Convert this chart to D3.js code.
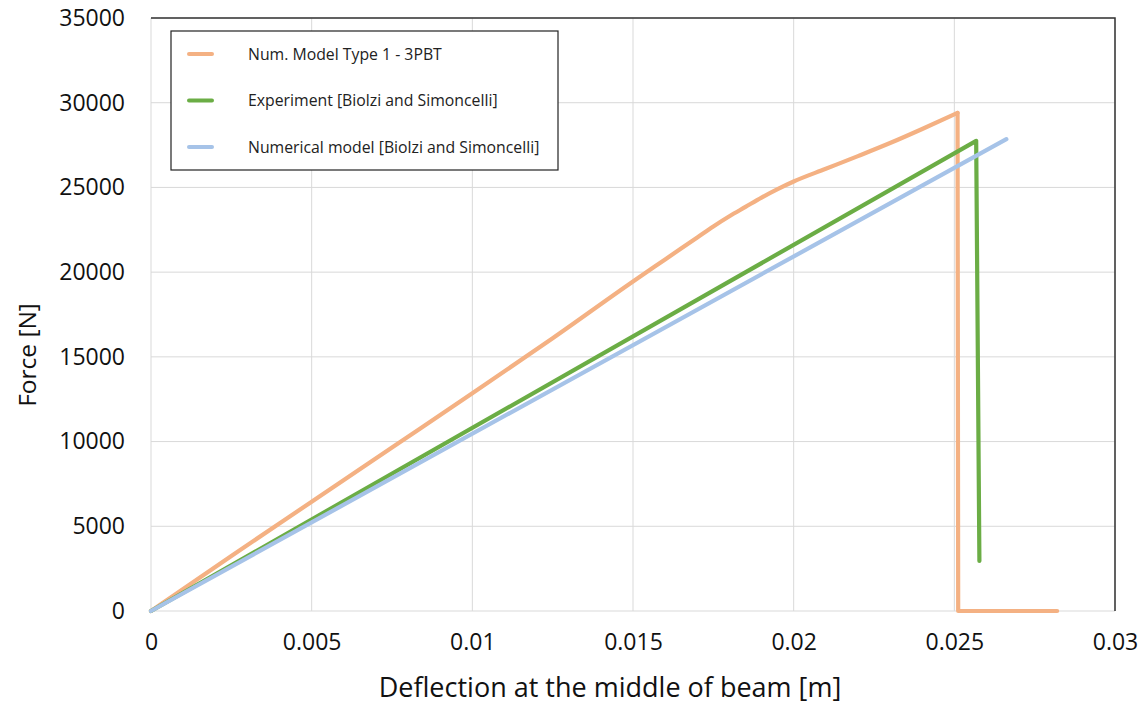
<!DOCTYPE html>
<html>
<head>
<meta charset="utf-8">
<script src="https://cdn.jsdelivr.net/npm/d3@7/dist/d3.min.js"></script>
<style>
  html, body { margin: 0; padding: 0; background: #fff; }
  svg { display: block; font-family: "Open Sans", "Liberation Sans", sans-serif; }
</style>
</head>
<body>
<svg id="chart" width="1144" height="706"></svg>
<script>
// ---- data ----
const seriesNames = [
  "Num. Model Type 1 - 3PBT",
  "Experiment [Biolzi and Simoncelli]",
  "Numerical model [Biolzi and Simoncelli]"
];
// rising branch of the numerical model, then its failure drop
const numModelX = [0, 0.0025, 0.005, 0.0075, 0.01, 0.0125, 0.015, 0.016, 0.017, 0.0175, 0.018, 0.0185, 0.019, 0.0195, 0.02, 0.021, 0.022, 0.023, 0.024, 0.0251];
const numModelY = [0, 3250, 6450, 9650, 12850, 16100, 19450, 20750, 22050, 22700, 23300, 23850, 24400, 24900, 25350, 26100, 26850, 27620, 28450, 29400];
const numModelDropX = [0.0251, 0.02512, 0.0282];
const numModelDropY = [29400, 0, 0];
const experimentX = [0, 0.02568, 0.02578];
const experimentY = [0, 27750, 2950];
const biolziModelX = [0, 0.02662];
const biolziModelY = [0, 27850];
const xTicks = [0, 0.005, 0.01, 0.015, 0.02, 0.025, 0.03];
const xTickLabels = ["0", "0.005", "0.01", "0.015", "0.02", "0.025", "0.03"];
const yTicks = [0, 5000, 10000, 15000, 20000, 25000, 30000, 35000];
const colors = ["#F4B183", "#6BAD45", "#A6C3E8"];

// ---- layout ----
const svg = d3.select("#chart");
const pL = 151, pR = 1115, pT = 18, pB = 611;
const x = d3.scaleLinear().domain([0, 0.03]).range([pL, pR]);
const y = d3.scaleLinear().domain([0, 35000]).range([pB, pT]);

// gridlines
svg.append("g").selectAll("line").data(xTicks).join("line")
  .attr("x1", d => x(d)).attr("x2", d => x(d))
  .attr("y1", pT).attr("y2", pB)
  .attr("stroke", "#d9d9d9").attr("stroke-width", 1);
svg.append("g").selectAll("line").data(yTicks).join("line")
  .attr("x1", pL).attr("x2", pR)
  .attr("y1", d => y(d)).attr("y2", d => y(d))
  .attr("stroke", "#d9d9d9").attr("stroke-width", 1);
// dark top/right border
svg.append("path")
  .attr("d", `M${pL},${pT}H${pR}V${pB}`)
  .attr("fill", "none").attr("stroke", "#333").attr("stroke-width", 1.5);

// axes labels via d3 axes (no domain / ticks)
const xAxis = svg.append("g").attr("transform", `translate(0,${pB})`)
  .call(d3.axisBottom(x).tickValues(xTicks).tickFormat((d, i) => xTickLabels[i]).tickSize(0).tickPadding(23));
xAxis.select(".domain").remove();
xAxis.selectAll("text").attr("font-size", 23).attr("fill", "#111").attr("font-family", "Open Sans, sans-serif");

const yAxis = svg.append("g").attr("transform", `translate(${pL},0)`)
  .call(d3.axisLeft(y).tickValues(yTicks).tickFormat(d3.format("d")).tickSize(0).tickPadding(26));
yAxis.select(".domain").remove();
yAxis.selectAll("text").attr("font-size", 23).attr("fill", "#111").attr("font-family", "Open Sans, sans-serif");

// axis titles
svg.append("text").attr("x", 610).attr("y", 697).attr("text-anchor", "middle")
  .attr("font-size", 27).attr("fill", "#111").text("Deflection at the middle of beam [m]");
svg.append("text").attr("transform", "translate(36,355) rotate(-90)").attr("text-anchor", "middle")
  .attr("font-size", 24.5).attr("fill", "#111").text("Force [N]");

// lines
const series = [
  {xs: numModelX, ys: numModelY, curve: d3.curveMonotoneX, c: 0},
  {xs: numModelDropX, ys: numModelDropY, curve: d3.curveLinear, c: 0},
  {xs: experimentX, ys: experimentY, curve: d3.curveLinear, c: 1},
  {xs: biolziModelX, ys: biolziModelY, curve: d3.curveLinear, c: 2}
];
series.forEach((s) => {
  const line = d3.line().x(d => x(d[0])).y(d => y(d[1])).curve(s.curve);
  svg.append("path")
    .datum(s.xs.map((v, j) => [v, s.ys[j]]))
    .attr("d", line)
    .attr("fill", "none")
    .attr("stroke", colors[s.c])
    .attr("stroke-width", 4.2)
    .attr("stroke-linejoin", "round")
    .attr("stroke-linecap", "round");
});

// legend
const lg = svg.append("g");
lg.append("rect").attr("x", 171).attr("y", 31).attr("width", 387).attr("height", 139)
  .attr("fill", "#fff").attr("stroke", "#222").attr("stroke-width", 1.2);
seriesNames.forEach((name, i) => {
  const ly = 54 + i * 46.5;
  lg.append("line").attr("x1", 189).attr("x2", 212).attr("y1", ly).attr("y2", ly)
    .attr("stroke", colors[i]).attr("stroke-width", 4).attr("stroke-linecap", "round");
  lg.append("text").attr("x", 248).attr("y", ly + 5.5).attr("font-size", 15.8).attr("fill", "#222").text(name);
});
</script>
</body>
</html>
